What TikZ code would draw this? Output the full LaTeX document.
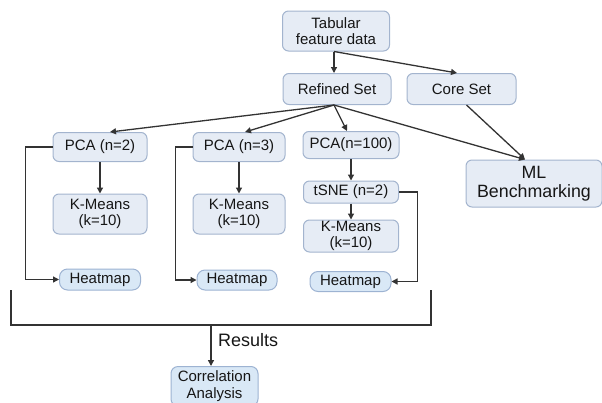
\documentclass[tikz,border=0pt]{standalone}
\usepackage{fontspec}
\setmainfont{Liberation Sans}
\usetikzlibrary{arrows.meta,calc}
\definecolor{boxfill}{HTML}{E6ECF5}
\definecolor{boxline}{HTML}{A3B4CE}
\definecolor{hmfill}{HTML}{D9E8F6}
\definecolor{hmline}{HTML}{9DB3D2}
\definecolor{ink}{HTML}{161616}
\definecolor{arrowc}{HTML}{333333}
\tikzset{
  box/.style={draw=boxline, fill=boxfill, line width=1pt, rounded corners=6pt, align=center,
    inner sep=0pt, text=ink, font=\fontsize{15}{16.5}\selectfont},
  hmbox/.style={box, draw=hmline, fill=hmfill, rounded corners=8pt},
  arr/.style={draw=arrowc, line width=1.3pt, -{Triangle[length=6pt,width=6pt]}},
  ln/.style={draw=arrowc, line width=1.3pt},
}
\begin{document}
\begin{tikzpicture}[x=1pt,y=-1pt]
\useasboundingbox (0,0) rectangle (602,402);
\clip (0,0) rectangle (602,402);
\node[box, minimum width=107, minimum height=40] (tab) at (336,31) {Tabular\\feature data};
\node[box, minimum width=108, minimum height=31] (ref) at (337,89) {Refined Set};
\node[box, minimum width=109, minimum height=31] (core) at (461.5,89) {Core Set};
\node[box, minimum width=94, minimum height=29] (pca2) at (100,147) {PCA (n=2)};
\node[box, minimum width=92, minimum height=29] (pca3) at (239,147) {PCA (n=3)};
\node[box, minimum width=96, minimum height=27] (pca100) at (351,145) {PCA(n=100)};
\node[box, minimum width=94, minimum height=40] (km1) at (100,214) {K-Means\\(k=10)};
\node[box, minimum width=92, minimum height=40] (km2) at (239,214) {K-Means\\(k=10)};
\node[box, minimum width=95, minimum height=22] (tsne) at (351,192) {tSNE (n=2)};
\node[box, minimum width=95, minimum height=32] (km3) at (351,236) {K-Means\\(k=10)};
\node[hmbox, minimum width=81, minimum height=21] (hm1) at (100,279.5) {Heatmap};
\node[hmbox, minimum width=80, minimum height=20] (hm2) at (237,280) {Heatmap};
\node[hmbox, minimum width=81, minimum height=20] (hm3) at (350.5,281.5) {Heatmap};
\node[box, minimum width=136, minimum height=47, font=\fontsize{17.8}{18.5}\selectfont] (ml) at (534,183.5) {ML\\Benchmarking};
\node[hmbox, anchor=north, text width=87, inner ysep=4.5, rounded corners=7pt] (corr) at (214.5,366) {Correlation\\Analysis};
% top arrows
\draw[arr] ([xshift=-2]tab.south) -- ([xshift=-3]ref.north);
\draw[arr] ([xshift=-2]tab.south) -- ([xshift=-4.5]core.north);
\coordinate (rs) at ([xshift=-3]ref.south);
\draw[arr] (rs) -- ([xshift=10]pca2.north);
\draw[arr] (rs) -- ([xshift=6]pca3.north);
\draw[arr] (rs) -- ([xshift=-4]pca100.north);
\draw[arr] (rs) -- ([xshift=-9]ml.north);
\draw[arr] ([xshift=5]core.south) -- ([xshift=-9]ml.north);
% vertical chains
\draw[arr] (pca2) -- (km1);
\draw[arr] (pca3) -- (km2);
\draw[arr] (pca100) -- (tsne);
\draw[arr] (tsne) -- (km3);
% elbows
\draw[arr] (pca2.west) -- ++(-27,0) |- (hm1.west);
\draw[arr] (pca3.west) -- ++(-17,0) |- (hm2.west);
\draw[arr] (tsne.east) -- ++(18.5,0) |- (hm3.east);
% bracket
\coordinate (bl) at (11,290);
\coordinate (br) at (431,290);
\coordinate (res) at (211,325);
\draw[ln] (bl) |- (br |- res) -- (br);
\draw[arr] (res) -- (res |- corr.north);
\node[anchor=west, text=ink, font=\fontsize{18}{20}\selectfont, inner sep=0pt] (reslbl) at (218,340) {Results};
\end{tikzpicture}
\end{document}
